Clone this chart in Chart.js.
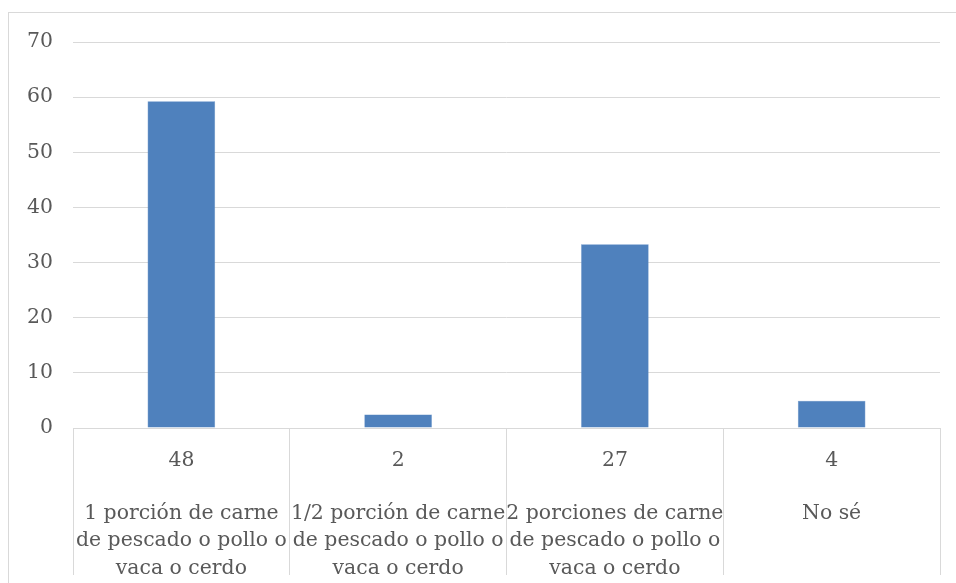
<!DOCTYPE html>
<html>
<head>
<meta charset="utf-8">
<script src="https://cdn.jsdelivr.net/npm/chart.js@4/dist/chart.umd.min.js"></script>
<style>
  html, body { margin: 0; padding: 0; background: #ffffff; overflow: hidden; }
  canvas { display: block; }
</style>
</head>
<body>
<canvas id="chart" width="956" height="583"></canvas>
<script>
// Category labels (wrapped onto lines), answer counts and share of answers (%)
const categories = [
  ['1 porción de carne', 'de pescado o pollo o', 'vaca o cerdo'],
  ['1/2 porción de carne', 'de pescado o pollo o', 'vaca o cerdo'],
  ['2 porciones de carne', 'de pescado o pollo o', 'vaca o cerdo'],
  ['No sé']
];
const counts = [48, 2, 27, 4];
const percentages = [59.26, 2.47, 33.33, 4.94];
const yTicks = [0, 10, 20, 30, 40, 50, 60, 70];

const TEXT = '#595959';
const LINE = '#d9d9d9';
const FONT = { family: '"DejaVu Serif", serif', size: 20.4, lineHeight: '27.5px' };

// Light frame around the whole chart
const framePlugin = {
  id: 'frame',
  beforeDraw(chart) {
    const ctx = chart.ctx;
    ctx.save();
    ctx.fillStyle = '#ffffff';
    ctx.fillRect(0, 0, chart.width, chart.height);
    ctx.strokeStyle = LINE;
    ctx.lineWidth = 1;
    ctx.strokeRect(8.5, 12.5, 1000, 1000);
    ctx.restore();
  }
};

new Chart(document.getElementById('chart'), {
  type: 'bar',
  data: {
    labels: counts.map(String),
    datasets: [{
      data: percentages,
      backgroundColor: '#4f81bd',
      borderColor: '#5b8ac4',
      borderWidth: 0.5,
      barPercentage: 0.312,
      categoryPercentage: 1
    }]
  },
  options: {
    responsive: false,
    devicePixelRatio: 1,
    animation: false,
    layout: { padding: { top: 42, right: 16, bottom: 0, left: 0 } },
    plugins: {
      legend: { display: false },
      tooltip: { enabled: false }
    },
    scales: {
      y: {
        min: 0,
        max: 70,
        afterBuildTicks(scale) { scale.ticks = yTicks.map(v => ({ value: v })); },
        afterFit(scale) { scale.width = 73; },
        grid: { color: LINE, lineWidth: 1, drawTicks: false },
        border: { display: false },
        ticks: { color: TEXT, font: FONT, padding: 20 }
      },
      x: {
        position: 'bottom',
        weight: 0,
        offset: true,
        afterFit(scale) { scale.height = 44; },
        grid: {
          display: true,
          offset: true,
          drawOnChartArea: false,
          drawTicks: true,
          tickLength: 147,
          color: LINE,
          lineWidth: 1
        },
        border: { display: true, color: LINE, width: 1 },
        ticks: { color: TEXT, font: FONT, padding: -128, maxRotation: 0, autoSkip: false }
      },
      xNames: {
        type: 'category',
        position: 'bottom',
        weight: 1,
        offset: true,
        labels: categories,
        afterFit(scale) { scale.height = 111; },
        grid: { display: false },
        border: { display: false },
        ticks: { color: TEXT, font: FONT, padding: 19.5, maxRotation: 0, autoSkip: false }
      }
    }
  },
  plugins: [framePlugin]
});
</script>
</body>
</html>
